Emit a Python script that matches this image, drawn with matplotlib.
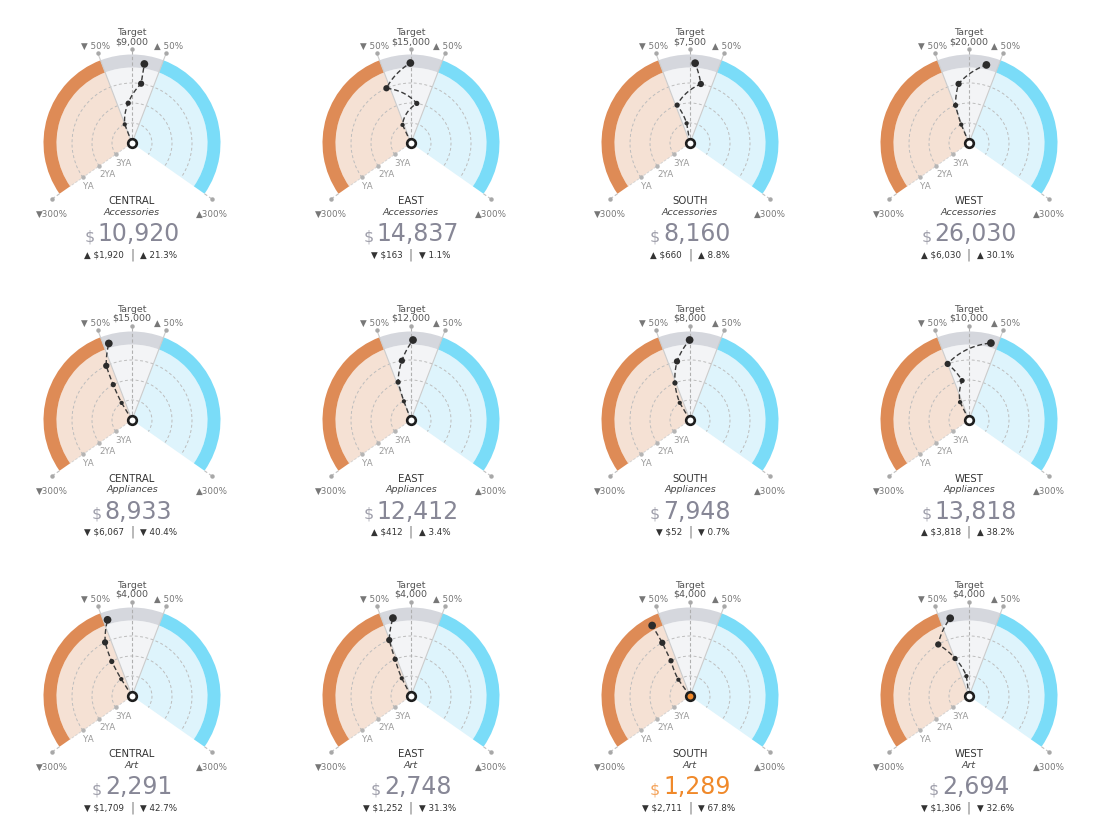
import numpy as np
import matplotlib
matplotlib.use('Agg')
import matplotlib.pyplot as plt

plt.rcParams['font.family'] = ['DejaVu Sans']

# ---------------- data ----------------
regions = ['CENTRAL', 'EAST', 'SOUTH', 'WEST']
categories = ['Accessories', 'Appliances', 'Art']
targets = [[9000, 15000, 7500, 20000],
           [15000, 12000, 8000, 10000],
           [4000, 4000, 4000, 4000]]
actuals = [[10920, 14837, 8160, 26030],
           [8933, 12412, 7948, 13818],
           [2291, 2748, 1289, 2694]]
# % deviation from target in earlier years
pct_3ya = [[-51, -60, -23, -55],
           [-75, -50, -74, -64],
           [-78, -66, -85, -18]]
pct_2ya = [[-13, 20, -45, -47],
           [-67, -45, -53, -24],
           [-73, -56, -68, -49]]
pct_ya = [[21, -58, 25, -24],
          [-61, -21, -30, -50],
          [-64, -51, -66, -74]]
ring_labels = ['3YA', '2YA', 'YA']

# ---------------- style ----------------
W, H = 1108, 829
col_x = [132, 411, 690, 969]
row_y = [144, 421, 697]
R = 100
RINGS = [20, 40, 60, 80]
R_IN, R_OUT = 75.5, 88.5
DEG_PER_PCT = 125 / 300

ORANGE, ORANGE_L = '#de8b56', '#f5e1d4'
BLUE, BLUE_L = '#7adcf8', '#def4fc'
GRAY, GRAY_L = '#d5d7dd', '#f3f4f6'
FLAG = '#f0892a'
DARK = '#2b2b2b'


def th(p):
    return np.deg2rad(np.asarray(p, dtype=float) * DEG_PER_PCT)


def curved(line, steps=64):
    # let the polar transform draw each segment as a spiral / arc
    line.get_path()._interpolation_steps = steps
    return line


fig = plt.figure(figsize=(W / 100, H / 100), dpi=100)
renderer = fig.canvas.get_renderer()

t50, t300 = th(50), th(300)

for i, cat in enumerate(categories):
    for j, reg in enumerate(regions):
        cx, cy = col_x[j], row_y[i]
        ax = fig.add_axes([(cx - R) / W, 1 - (cy + R) / H, 2 * R / W, 2 * R / H],
                          projection='polar')
        ax.set_theta_zero_location('N')
        ax.set_theta_direction(-1)
        ax.set_ylim(0, R)
        ax.axis('off')

        tgt = targets[i][j]
        act = actuals[i][j]
        delta = act - tgt
        pct = delta * 100 / tgt
        flagged = pct < -50

        # sectors
        wside = t300 - t50
        ax.bar([-(t300 + t50) / 2, 0, (t300 + t50) / 2], [R_IN] * 3,
               width=[wside, 2 * t50, wside], bottom=0,
               color=[ORANGE_L, GRAY_L, BLUE_L], linewidth=0, zorder=1)
        ax.bar([-(t300 + t50) / 2, 0, (t300 + t50) / 2], [R_OUT - R_IN] * 3,
               width=[wside, 2 * t50, wside], bottom=R_IN,
               color=[ORANGE, GRAY, BLUE], linewidth=0, zorder=1)

        # grid circles
        for rr in RINGS[:3]:
            ln, = ax.plot([-t300, t300], [rr, rr], color='#bdbdbd', lw=0.7,
                          ls=(0, (3, 2.5)), zorder=2)
            curved(ln, 200)
        # radial lines
        ax.plot([0, 0], [0, 94], color='#b0b0b0', lw=0.8, ls=(0, (3, 2)), zorder=2)
        ax.plot([-t50, -t50], [0, 96], color='#cccccc', lw=0.8, zorder=2)
        ax.plot([t50, t50], [0, 96], color='#cccccc', lw=0.8, zorder=2)
        ax.plot([-t300, -t300], [R_OUT, 98], color='#c0c0c0', lw=0.8, ls=(0, (3, 2)), zorder=2)
        ax.plot([t300, t300], [R_OUT, 98], color='#c0c0c0', lw=0.8, ls=(0, (3, 2)), zorder=2)
        ax.plot([-t300, -t300], [0, R_IN], color='#d0d0d0', lw=0.6, ls=(0, (3, 2)), zorder=2)
        ax.plot([0, -t50, t50, -t300, t300], [94, 96, 96, 98, 98], 'o', ms=2.2,
                color='#a8a8a8', zorder=3, clip_on=False)
        ax.plot([-t300] * 3, RINGS[:3], 'o', ms=2.2, color='#b5b5b5', zorder=3)

        # series
        pts = th([pct_3ya[i][j], pct_2ya[i][j], pct_ya[i][j], pct])
        ln, = ax.plot(np.r_[pts[0], pts], np.r_[0, RINGS], color='#3a3a3a', lw=1.0,
                      ls=(0, (3.5, 2)), zorder=4)
        curved(ln, 40)
        ax.scatter(pts, RINGS, s=np.array([2.9, 3.6, 4.3, 5.3]) ** 2 * 1.1,
                   color=DARK, zorder=5, linewidths=0)
        ax.plot([0], [0], 'o', ms=6.2, mfc=FLAG if flagged else 'white',
                mec='#1e1e1e', mew=1.9, zorder=6)

        # labels around the gauge
        ax.annotate(f'Target\n${tgt:,}', xy=(0, 94), xytext=(0, 4),
                    textcoords='offset pixels', ha='center', va='bottom',
                    fontsize=6.8, color='#555555', linespacing=1.0)
        ax.annotate('▼ 50%', xy=(-t50, 96), xytext=(-2, 8),
                    textcoords='offset pixels', ha='center', va='center',
                    fontsize=6.3, color='#777777')
        ax.annotate('▲ 50%', xy=(t50, 96), xytext=(2, 8),
                    textcoords='offset pixels', ha='center', va='center',
                    fontsize=6.3, color='#777777')
        ax.annotate('▼300%', xy=(-t300, 98), xytext=(0, -14),
                    textcoords='offset pixels', ha='center', va='center',
                    fontsize=6.3, color='#777777')
        ax.annotate('▲300%', xy=(t300, 98), xytext=(0, -14),
                    textcoords='offset pixels', ha='center', va='center',
                    fontsize=6.3, color='#777777')
        for rl, rr in zip(ring_labels, RINGS[:3]):
            ax.annotate(rl, xy=(-t300, rr), xytext=(0, -8),
                        textcoords='offset pixels', ha='left', va='center',
                        fontsize=6.3, color='#9a9a9a')

        # titles below
        ax.annotate(reg, xy=(0, 0), xytext=(0, -57.5), textcoords='offset pixels',
                    ha='center', va='center', fontsize=7.3, color='#333333')
        ax.annotate(cat, xy=(0, 0), xytext=(0, -68.5), textcoords='offset pixels',
                    ha='center', va='center', fontsize=6.8, color='#444444',
                    style='italic')

        numcol = FLAG if flagged else '#878796'
        dolcol = '#f4a45c' if flagged else '#a0a0ac'
        num = ax.annotate(f'{act:,}', xy=(0, 0), xytext=(0, -97.5),
                          textcoords='offset pixels', ha='left', va='baseline',
                          fontsize=17, color=numcol)
        dol = ax.annotate('$', xy=(0, 0), xytext=(0, -97.5),
                          textcoords='offset pixels', ha='right', va='baseline',
                          fontsize=11.5, color=dolcol)
        wn = num.get_window_extent(renderer).width
        wd = dol.get_window_extent(renderer).width
        gap = 3
        x0 = (gap + wd - wn) / 2
        num.xyann = (x0, -97.5)
        dol.xyann = (x0 - gap, -97.5)

        arrow = '▲' if delta >= 0 else '▼'
        ax.annotate(f'{arrow} ${abs(delta):,}', xy=(0, 0), xytext=(-8, -111),
                    textcoords='offset pixels', ha='right', va='center',
                    fontsize=6.3, color='#333333')
        ax.annotate('|', xy=(0, 0), xytext=(0, -111), textcoords='offset pixels',
                    ha='center', va='center', fontsize=8.5, color='#777777')
        ax.annotate(f'{arrow} {abs(pct):.1f}%', xy=(0, 0), xytext=(8, -111),
                    textcoords='offset pixels', ha='left', va='center',
                    fontsize=6.3, color='#333333')

fig.savefig('out.png', dpi=100)
